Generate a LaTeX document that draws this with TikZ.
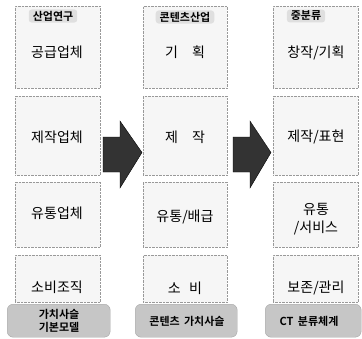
\documentclass[tikz,border=0pt]{standalone}
\usepackage{fontspec}
\newfontfamily\kr{Noto Sans CJK KR}
\newfontfamily\krb{Noto Sans CJK KR Bold}
\begin{document}
\begin{tikzpicture}[x=1pt,y=-1pt,
  cell/.style={draw=gray!80, densely dotted, fill=gray!7, inner sep=0pt, anchor=north west},
  body/.style={font=\kr\fontsize{14}{16}\selectfont, inner sep=0pt},
  head/.style={font=\krb\fontsize{11}{12}\selectfont, fill=gray!25, rounded corners=3pt, inner xsep=4pt, inner ysep=1.5pt},
  foot/.style={draw=gray!70, fill=gray!45, rounded corners=6pt, inner sep=0pt, anchor=north west},
  foottext/.style={font=\krb\fontsize{11}{13}\selectfont, inner sep=0pt, align=center},
  bigarrow/.style={fill=black!80, draw=black}]
\useasboundingbox (0,0) rectangle (362,338);
% column 1
\node[cell, minimum width=85pt, minimum height=82pt] (a1) at (15,6) {};
\node[cell, minimum width=85pt, minimum height=79pt] (a2) at (15,96) {};
\node[cell, minimum width=85pt, minimum height=65pt] (a3) at (15,182) {};
\node[cell, minimum width=85pt, minimum height=47pt] (a4) at (15,255) {};
\node[head] (ah) at (53,16) {산업연구};
\node[body] (at1) at (57,52) {공급업체};
\node[body] (at2) at (57,137) {제작업체};
\node[body] (at3) at (57,213) {유통업체};
\node[body] (at4) at (57,287) {소비조직};
\node[foot, minimum width=103pt, minimum height=33pt] (af) at (7,304) {};
\node[foottext] (aft) at (59,321) {가치사슬\\기본모델};
% column 2
\node[cell, minimum width=84pt, minimum height=82pt] (b1) at (143,6) {};
\node[cell, minimum width=84pt, minimum height=79pt] (b2) at (143,96) {};
\node[cell, minimum width=84pt, minimum height=65pt] (b3) at (143,182) {};
\node[cell, minimum width=84pt, minimum height=47pt] (b4) at (143,255) {};
\node[head] (bh) at (185,17) {콘텐츠산업};
\node[body] (bt1) at (185,52) {기\hspace{1em}획};
\node[body] (bt2) at (185,137) {제\hspace{1em}작};
\node[body] (bt3) at (185,217) {유통/배급};
\node[body] (bt4) at (185,288) {소\hspace{0.6em}비};
\node[foot, minimum width=102pt, minimum height=33pt] (bf) at (135,304) {};
\node[foottext] (bft) at (187,321) {콘텐츠\hspace{0.4em}가치사슬};
% column 3
\node[cell, minimum width=85pt, minimum height=82pt] (c1) at (273,6) {};
\node[cell, minimum width=85pt, minimum height=79pt] (c2) at (273,96) {};
\node[cell, minimum width=85pt, minimum height=65pt] (c3) at (273,182) {};
\node[cell, minimum width=85pt, minimum height=47pt] (c4) at (273,255) {};
\node[head] (ch) at (306,16) {중분류};
\node[body] (ct1) at (316,53) {창작/기획};
\node[body] (ct2) at (316,137) {제작/표현};
\node[body, align=center] (ct3) at (316,219) {유통\\[2pt]/서비스};
\node[body] (ct4) at (316,288) {보존/관리};
\node[foot, minimum width=96pt, minimum height=33pt] (cf) at (265,304) {};
\node[foottext] (cft) at (309,321) {CT\hspace{0.4em}분류체계};
% block arrows
\fill[bigarrow] (103,137) -- (120,137) -- (120,121) -- (142,152.5) -- (120,188) -- (120,172) -- (103,172) -- cycle;
\fill[bigarrow] (233,137) -- (250,137) -- (250,121) -- (271,152.5) -- (250,188) -- (250,172) -- (233,172) -- cycle;
\end{tikzpicture}
\end{document}
